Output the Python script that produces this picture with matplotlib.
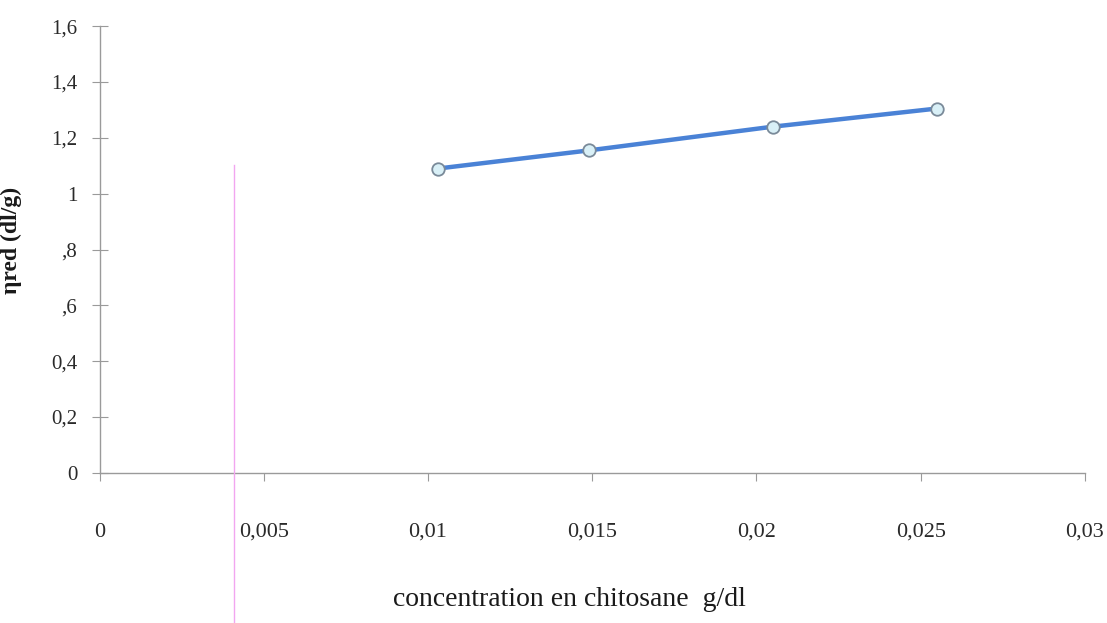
import matplotlib.pyplot as plt
from matplotlib.lines import Line2D

# data
concentration = [0.0103, 0.0149, 0.0205, 0.0255]
eta_red = [1.09, 1.155, 1.24, 1.305]

x_ticks = [0, 0.005, 0.01, 0.015, 0.02, 0.025, 0.03]
x_tick_labels = ["0", "0,005", "0,01", "0,015", "0,02", "0,025", "0,03"]
y_ticks = [0, 0.2, 0.4, 0.6, 0.8, 1.0, 1.2, 1.4, 1.6]
y_tick_labels = ["0", "0,2", "0,4", ",6", ",8", "1", "1,2", "1,4", "1,6"]

plt.rcParams["font.family"] = ["Liberation Serif", "DejaVu Serif"]

fig = plt.figure(figsize=(11.07, 6.23), dpi=100)
ax = fig.add_axes([0.090, 0.241, 0.890, 0.717])

ax.plot(concentration, eta_red, color="#4a82d6", linewidth=3.2,
        marker="o", markersize=9, markerfacecolor="#d9f0f7",
        markeredgecolor="#7a8a99", markeredgewidth=1.3, zorder=3)

ax.set_xlim(0, 0.03)
ax.set_ylim(0, 1.6)
ax.set_xticks(x_ticks)
ax.set_xticklabels(x_tick_labels)
ax.set_yticks(y_ticks)
ax.set_yticklabels(y_tick_labels)

for side in ("top", "right"):
    ax.spines[side].set_visible(False)
for side in ("left", "bottom"):
    ax.spines[side].set_color("#9a9a9a")
    ax.spines[side].set_linewidth(1.0)

ax.tick_params(axis="y", direction="inout", length=12, width=0.8,
               color="#9a9a9a", labelsize=15, labelcolor="#2a2a2a", pad=10)
ax.tick_params(axis="x", direction="out", length=6, width=0.8,
               color="#9a9a9a", labelsize=16, labelcolor="#2a2a2a", pad=30)

ax.set_xlabel("concentration en chitosane  g/dl", fontsize=20,
              color="#1a1a1a")
ax.xaxis.set_label_coords(0.477, -0.255)
ax.set_ylabel("ηred (dl/g)", fontsize=17, color="#1a1a1a",
              fontweight="bold")
ax.yaxis.set_label_coords(-0.079, 0.52)

# faint pink scanner streak
fig.add_artist(Line2D([0.211, 0.211], [0.0, 0.735], color="#f2a6f0",
                      linewidth=1.0, transform=fig.transFigure))

fig.savefig("out.png", dpi=100, facecolor="white")
